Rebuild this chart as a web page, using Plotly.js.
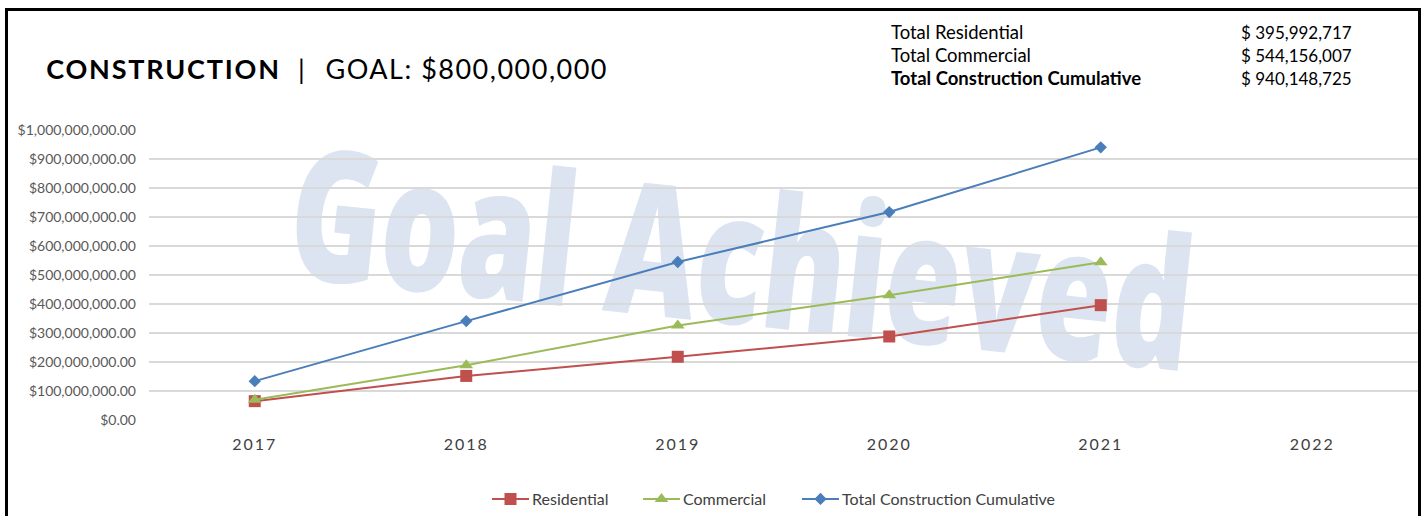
<!DOCTYPE html>
<html>
<head>
<meta charset="utf-8">
<script src="https://cdn.plot.ly/plotly-3.0.1.min.js"></script>
<style>
  html, body { margin: 0; padding: 0; background: #fff; }
  #chart { width: 1427px; height: 516px; }
  g.annotation[data-index="0"] text { letter-spacing: 1.8px; }
  g.annotation[data-index="2"] text { letter-spacing: 1.5px; }
  g.xtick text { letter-spacing: 2px; }
</style>
</head>
<body>
<div id="chart"></div>
<script>
// ---- data ----
const years = ['2017', '2018', '2019', '2020', '2021', '2022'];
const dataYears = ['2017', '2018', '2019', '2020', '2021'];
const residential = [65000000, 152000000, 218000000, 288000000, 395992717];
const commercial = [70000000, 189000000, 326000000, 430000000, 544156007];
const totalCumulative = [134000000, 341000000, 545000000, 717000000, 940148725];
const seriesNames = ['Residential', 'Commercial', 'Total Construction Cumulative'];
const summaryLabels = ['Total Residential', 'Total Commercial', 'Total Construction Cumulative'];
const summaryValues = ['$ 395,992,717', '$ 544,156,007', '$ 940,148,725'];
const titleMain = 'CONSTRUCTION';
const titleGoal = 'GOAL: $800,000,000';
const watermark = 'Goal Achieved';

// ---- layout geometry (pixels) ----
const W = 1427, H = 516;
const L = 149, R = 1418, T = 130, B = 420;
const px = x => (x - L) / (R - L);
const py = y => (B - y) / (B - T);

const FONT = 'Lato, "Open Sans", sans-serif';

const traces = [
  {
    x: dataYears, y: residential, name: seriesNames[0], type: 'scatter', mode: 'lines+markers',
    line: {color: '#c0504d', width: 2},
    marker: {symbol: 'square', size: 12, color: '#c0504d'}
  },
  {
    x: dataYears, y: commercial, name: seriesNames[1], type: 'scatter', mode: 'lines+markers',
    line: {color: '#9bbb59', width: 2},
    marker: {symbol: 'triangle-up', size: 12, color: '#9bbb59'}
  },
  {
    x: dataYears, y: totalCumulative, name: seriesNames[2], type: 'scatter', mode: 'lines+markers',
    line: {color: '#4a7ebb', width: 2},
    marker: {symbol: 'diamond', size: 9.5, color: '#4a7ebb'}
  }
];

const annotations = [
  {xref: 'paper', yref: 'paper', x: px(163), y: py(69), xanchor: 'center', yanchor: 'middle',
   text: '<b>' + titleMain + '</b>', showarrow: false,
   font: {family: FONT, size: 27, color: '#000'}},
  {xref: 'paper', yref: 'paper', x: px(301), y: py(69), xanchor: 'center', yanchor: 'middle',
   text: '|', showarrow: false,
   font: {family: FONT, size: 27, color: '#000'}},
  {xref: 'paper', yref: 'paper', x: px(467), y: py(69), xanchor: 'center', yanchor: 'middle',
   text: titleGoal, showarrow: false,
   font: {family: FONT, size: 27, color: '#000'}}
];
const rowY = [32, 55, 78];
summaryLabels.forEach((lab, i) => {
  annotations.push({xref: 'paper', yref: 'paper', x: px(889), y: py(rowY[i]), xanchor: 'left', yanchor: 'middle',
    text: i === 2 ? '<b>' + lab + '</b>' : lab, showarrow: false,
    font: {family: FONT, size: 18.5, color: '#000'}});
  annotations.push({xref: 'paper', yref: 'paper', x: px(1239), y: py(rowY[i]), xanchor: 'left', yanchor: 'middle',
    text: summaryValues[i], showarrow: false,
    font: {family: FONT, size: 17, color: '#000'}});
});

const shapes = [
  // watermark, below the data
  {type: 'rect', xref: 'paper', yref: 'paper', layer: 'below',
   x0: px(298), x1: px(1184), y0: py(381), y1: py(152),
   line: {width: 0}, fillcolor: 'rgba(0,0,0,0)',
   label: {text: watermark, textposition: 'middle center', textangle: 6,
           font: {family: '"Open Sans", sans-serif', size: 183, color: '#dbe4f0', weight: 800}}},
  // frame
  {type: 'path', xref: 'paper', yref: 'paper', layer: 'above',
   path: 'M ' + px(6.5) + ' ' + py(530) + ' L ' + px(6.5) + ' ' + py(9.5) + ' L ' + px(1419.5) + ' ' + py(9.5) + ' L ' + px(1419.5) + ' ' + py(530),
   line: {color: '#000', width: 3}}
];

const layout = {
  width: W, height: H,
  margin: {l: L, r: W - R, t: T, b: H - B, pad: 0, autoexpand: false},
  paper_bgcolor: '#fff', plot_bgcolor: '#fff',
  showlegend: true,
  legend: {orientation: 'h', xref: 'container', yref: 'container',
           x: 770 / W, xanchor: 'center', y: (H - 499) / H, yanchor: 'middle',
           entrywidth: 215, entrywidthmode: 'pixels',
           font: {family: FONT, size: 16, color: '#404040'}, itemwidth: 35, tracegroupgap: 0},
  xaxis: {type: 'category', categoryorder: 'array', categoryarray: years, range: [-0.5, 5.5],
          showgrid: false, zeroline: false, showline: false, ticks: '', automargin: false,
          tickfont: {family: FONT, size: 16, color: '#404040'}, ticklabelstandoff: 13, fixedrange: true},
  yaxis: {range: [0, 1000000000], dtick: 100000000, tick0: 0, tickformat: '$,.2f', automargin: false,
          showgrid: true, gridcolor: '#d9d9d9', gridwidth: 1.5, zeroline: false, showline: false, ticks: '',
          tickfont: {family: FONT, size: 14, color: '#595959'}, ticklabelstandoff: 12, fixedrange: true},
  annotations: annotations,
  shapes: shapes
};

function condenseWatermark(gd) {
  gd.querySelectorAll('text').forEach(el => {
    if (el.textContent === watermark && !el.dataset.condensed) {
      const bb = el.getBBox();
      const cx = bb.x + bb.width / 2, cy = bb.y + bb.height / 2;
      const t = el.getAttribute('transform') || '';
      el.setAttribute('transform', t + ' translate(' + cx + ',' + cy + ') scale(0.675,1) translate(' + (-cx) + ',' + (-cy) + ')');
      el.dataset.condensed = '1';
    }
  });
}

// legend entries start where the reference places them
const legendStarts = [492, 643, 802];
function placeLegend(gd) {
  const root = gd.getBoundingClientRect();
  gd.querySelectorAll('g.legend g.traces').forEach((g, i) => {
    const line = g.querySelector('path.js-line');
    if (!line || legendStarts[i] === undefined) return;
    line.setAttribute('d', 'M5,0h37');
    g.querySelectorAll('g.legendpoints path.scatterpts').forEach(p => p.setAttribute('transform', 'translate(23.5,0)'));
    const cur = line.getBoundingClientRect().left - root.left;
    const m = /translate\(\s*([-\d.e]+)[ ,]+([-\d.e]+)\s*\)/.exec(g.getAttribute('transform') || '');
    if (m) {
      g.setAttribute('transform', 'translate(' + (parseFloat(m[1]) + legendStarts[i] - cur) + ',' + m[2] + ')');
    }
  });
}

Plotly.newPlot('chart', traces, layout, {displayModeBar: false, staticPlot: true}).then(gd => {
  condenseWatermark(gd);
  placeLegend(gd);
});
</script>
</body>
</html>
